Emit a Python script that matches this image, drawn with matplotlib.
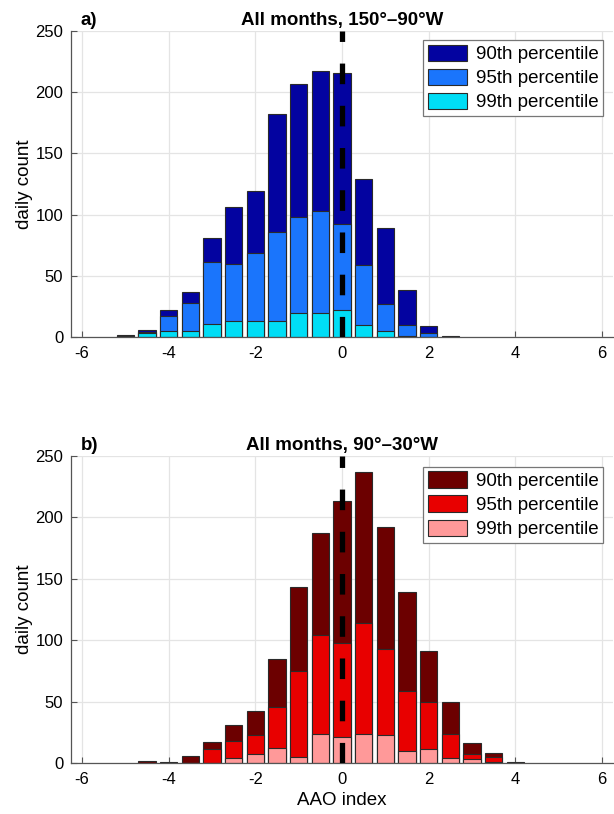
import matplotlib
matplotlib.use("Agg")
import matplotlib.pyplot as plt
from matplotlib.patches import Patch

plt.rcParams['font.family'] = ['Liberation Sans', 'DejaVu Sans']

# ---- data ----
x_top = [-5.0, -4.5, -4.0, -3.5, -3.0, -2.5, -2.0, -1.5, -1.0, -0.5, 0.0, 0.5, 1.0, 1.5, 2.0, 2.5]
p90_top = [2, 6, 22, 37, 81, 106, 119, 182, 207, 217, 216, 129, 89, 38, 9, 1]
p95_top = [1, 4, 17, 28, 61, 60, 69, 86, 98, 103, 92, 59, 27, 10, 3, 0]
p99_top = [0, 3, 5, 5, 11, 13, 13, 13, 20, 20, 22, 10, 5, 1, 0, 0]

x_bot = [-4.5, -4.0, -3.5, -3.0, -2.5, -2.0, -1.5, -1.0, -0.5, 0.0, 0.5, 1.0, 1.5, 2.0, 2.5, 3.0, 3.5, 4.0]
p90_bot = [2, 1, 6, 17, 31, 42, 85, 143, 187, 213, 237, 192, 139, 91, 50, 16, 8, 1]
p95_bot = [0, 0, 0, 11, 18, 23, 46, 75, 104, 98, 114, 93, 59, 50, 24, 7, 5, 0]
p99_bot = [0, 0, 0, 0, 4, 7, 12, 5, 24, 21, 24, 23, 10, 11, 4, 3, 1, 0]

labels = ['90th percentile', '95th percentile', '99th percentile']
xticks = [-6, -4, -2, 0, 2, 4, 6]
yticks = [0, 50, 100, 150, 200, 250]

colors_top = ['#0303a0', '#1a75fc', '#00ddf6']
colors_bot = ['#6c0000', '#e80000', '#ff9999']

fig = plt.figure(figsize=(6.14, 8.14), dpi=100)
ax1 = fig.add_axes([71/614, 1-337/814, 542/614, 306/814])
ax2 = fig.add_axes([71/614, 1-763/814, 542/614, 307/814])


def panel(ax, x, series, colors, title, tag, legend_y, xlabel=None):
    for vals, c in zip(series, colors):
        ax.bar(x, vals, width=0.4, color=c, edgecolor='#2a2a2a', linewidth=0.8, zorder=2)
    ax.axvline(0, color='black', linewidth=3.8, dashes=(3.9, 4.1), zorder=4)
    ax.set_xlim(-6.25, 6.25)
    ax.set_ylim(0, 250)
    ax.set_xticks(xticks)
    ax.set_yticks(yticks)
    ax.set_xticklabels([str(t) for t in xticks])
    ax.grid(True, color='#e4e4e4', linewidth=0.9, zorder=0)
    ax.set_axisbelow(True)
    for s in ['top', 'right']:
        ax.spines[s].set_visible(False)
    for s in ['left', 'bottom']:
        ax.spines[s].set_color('#555555')
        ax.spines[s].set_linewidth(0.9)
    ax.tick_params(direction='in', length=4, labelsize=12, color='#555555')
    ax.tick_params(axis='x', pad=6.5)
    ax.tick_params(axis='y', pad=5.5)
    ax.set_ylabel('daily count', fontsize=13.5)
    ax.yaxis.set_label_coords(-0.070, 0.5)
    ax.set_title(title, fontsize=13.5, fontweight='bold', pad=4.5)
    ax.text(0.018, 1.0196, tag, transform=ax.transAxes, fontsize=13.5, fontweight='bold',
            ha='left', va='baseline')
    handles = [Patch(facecolor=c, edgecolor='#2a2a2a', linewidth=0.8) for c in colors]
    leg = ax.legend(handles, labels, loc='upper right', bbox_to_anchor=(0.9815, legend_y),
                    fontsize=13.5, fancybox=False, framealpha=1, edgecolor='#777777',
                    handlelength=2.13, handleheight=1.0, labelspacing=0.28,
                    handletextpad=0.43, borderpad=0.25, borderaxespad=0.0)
    leg.get_frame().set_linewidth(0.9)
    if xlabel:
        ax.set_xlabel(xlabel, fontsize=13.5, labelpad=3.6)


panel(ax1, x_top, [p90_top, p95_top, p99_top], colors_top,
      'All months, 150°–90°W', 'a)', 0.971)
panel(ax2, x_bot, [p90_bot, p95_bot, p99_bot], colors_bot,
      'All months, 90°–30°W', 'b)', 0.965, xlabel='AAO index')

fig.savefig('out.png', dpi=100)
